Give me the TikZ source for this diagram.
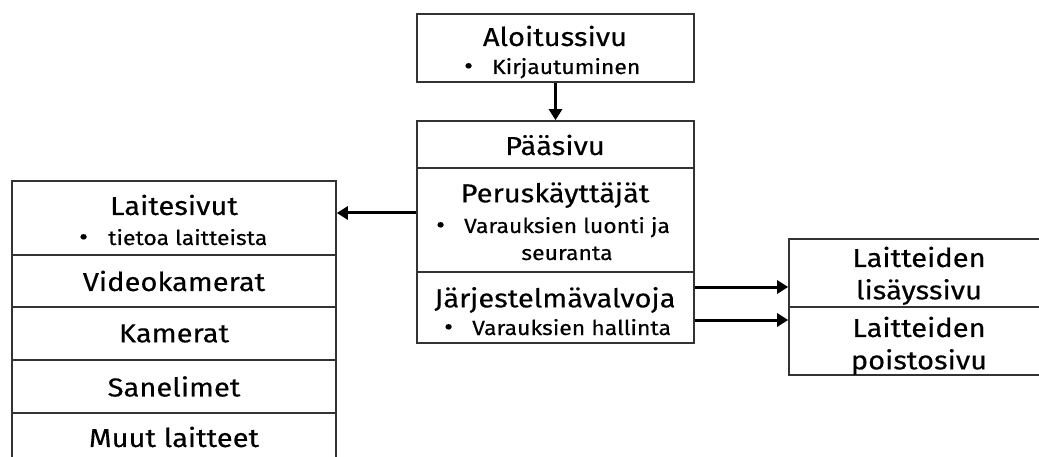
\documentclass[tikz,border=0pt]{standalone}
\usepackage{fontspec}
\setmainfont{Fira Sans}[FakeStretch=1.12,FakeBold=0.3]
\usetikzlibrary{arrows.meta}
\begin{document}
\begin{tikzpicture}[x=1pt,y=-1pt,
  cell/.style={draw=black!80,line width=1.6pt,inner sep=0pt},
  hd/.style={font=\fontsize{26}{30}\selectfont,inner sep=0pt,text=black},
  sb/.style={font=\fontsize{20.5}{24}\selectfont,inner sep=0pt,text=black,anchor=base},
  bul/.style={font=\fontsize{24}{28}\selectfont,inner sep=0pt,text=black,anchor=base west},
  arr/.style={draw=black,line width=3pt,-{Triangle[length=11pt,width=13pt]}}]
\useasboundingbox[fill=white] (0,0) rectangle (1039,457);
\clip (0,0) rectangle (1039,457);
% top box
\node[cell,minimum width=277pt,minimum height=68pt] (alo) at (555.5,48) {};
\node[hd] (aloT) at (555,36) {Aloitussivu};
\node[bul] (aloB) at (464,74) {•};
\node[sb,anchor=base west] (aloS) at (492,74) {Kirjautuminen};
% main box
\node[cell,minimum width=277pt,minimum height=47pt] (paa) at (555.5,144.5) {};
\node[hd] (paaT) at (555,145) {Pääsivu};
\node[cell,minimum width=277pt,minimum height=104pt] (peru) at (555.5,220) {};
\node[hd] (peruT) at (555,195) {Peruskäyttäjät};
\node[bul] (peruB) at (436,233) {•};
\node[sb] (peruS1) at (567,233) {Varauksien luonti ja};
\node[sb] (peruS2) at (567,260) {seuranta};
\node[cell,minimum width=277pt,minimum height=71pt] (jarj) at (555.5,307.5) {};
\node[hd] (jarjT) at (555,300) {Järjestelmävalvoja};
\node[bul] (jarjB) at (444,335) {•};
\node[sb,anchor=base west] (jarjS) at (472,335) {Varauksien hallinta};
% left box
\node[cell,minimum width=324pt,minimum height=74pt] (lait) at (174,218) {};
\node[hd] (laitT) at (174,205) {Laitesivut};
\node[bul] (laitB) at (79,245) {•};
\node[sb,anchor=base west] (laitS) at (108,245) {tietoa laitteista};
\node[cell,minimum width=324pt,minimum height=52pt] (vid) at (174,281) {};
\node[hd] at (vid.center) {Videokamerat};
\node[cell,minimum width=324pt,minimum height=53pt] (kam) at (174,333.5) {};
\node[hd] at (kam.center) {Kamerat};
\node[cell,minimum width=324pt,minimum height=53pt] (san) at (174,386.5) {};
\node[hd] at (san.center) {Sanelimet};
\node[cell,minimum width=324pt,minimum height=60pt] (muu) at (174,443) {};
\node[hd] at (174,437) {Muut laitteet};
% right box
\node[cell,minimum width=270pt,minimum height=68pt] (lis) at (924,273) {};
\node[hd] at (919,257) {Laitteiden};
\node[hd] at (919,292) {lisäyssivu};
\node[cell,minimum width=270pt,minimum height=68pt] (poi) at (924,341) {};
\node[hd] at (919,327) {Laitteiden};
\node[hd] at (919,362) {poistosivu};
% arrows
\draw[arr] (alo.south) -- (paa.north);
\draw[arr] ([yshift=7pt]peru.west) -- ([yshift=7pt]peru.west -| lait.east);
\draw[arr] ([yshift=20.5pt]jarj.east) -- ([yshift=20.5pt]jarj.east -| lis.west);
\draw[arr] ([yshift=-12.5pt]jarj.east) -- ([yshift=-12.5pt]jarj.east -| poi.west);
\end{tikzpicture}
\end{document}
